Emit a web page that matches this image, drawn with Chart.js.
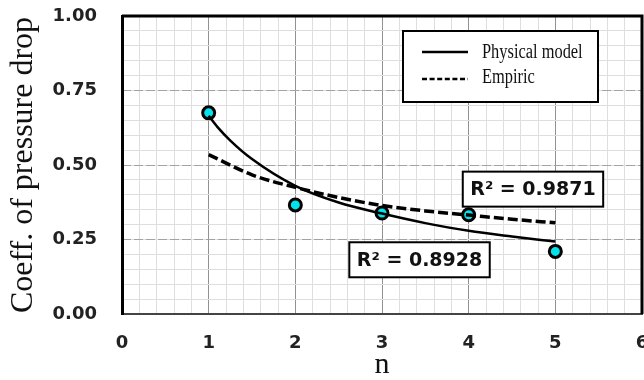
<!DOCTYPE html>
<html><head><meta charset="utf-8">
<script src="https://cdn.jsdelivr.net/npm/chart.js@4"></script>
<style>html,body{margin:0;padding:0;background:#fff;}canvas{display:block;}</style>
</head><body>
<canvas id="c" width="644" height="380"></canvas>
<script>
const xTickLabels = ['0','1','2','3','4','5','6'];
const yTickLabels = ['0.00','0.25','0.50','0.75','1.00'];
const measuredN = [1, 2, 3, 4, 5];
const measuredCoeff = [0.675, 0.366, 0.339, 0.333, 0.210];
const physicalN = [1, 1.1, 1.25, 1.5, 2, 2.5, 3, 3.5, 4, 4.5, 5];
const physicalCoeff = [0.665, 0.628, 0.582, 0.520, 0.430, 0.374, 0.337, 0.305, 0.279, 0.260, 0.243];
const empiricN = [1, 1.5, 2, 2.5, 3, 3.5, 4, 4.5, 5];
const empiricCoeff = [0.535, 0.467, 0.425, 0.391, 0.364, 0.346, 0.332, 0.318, 0.306];
const seriesNames = ['Physical model', 'Empiric', 'Measured'];
const r2Labels = ['R² = 0.8928', 'R² = 0.9871'];
const axisTitles = {x: 'n', y: 'Coeff. of pressure drop'};

const pts = (xs, ys) => xs.map((v, i) => ({x: v, y: ys[i]}));

const decor = {
  id: 'decor',
  afterDatasetsDraw(chart) {
    const {ctx, chartArea: a, scales: {x, y}} = chart;
    ctx.save();
    ctx.strokeStyle = '#000'; ctx.lineWidth = 3;
    ctx.beginPath();
    ctx.moveTo(a.left, a.top); ctx.lineTo(a.right, a.top); ctx.lineTo(a.right, a.bottom);
    ctx.stroke();

    const lx = 403, ly = 31, lw = 195, lh = 71;
    ctx.fillStyle = '#fff'; ctx.fillRect(lx, ly, lw, lh);
    ctx.lineWidth = 2; ctx.strokeStyle = '#000'; ctx.strokeRect(lx, ly, lw, lh);
    const ds = chart.data.datasets;
    [0, 1].forEach((k, i) => {
      const yy = ly + (i === 0 ? 21 : 48);
      ctx.beginPath();
      ctx.setLineDash(k === 1 ? [5, 2.6] : []);
      ctx.lineWidth = 2.5;
      ctx.moveTo(lx + 19, yy); ctx.lineTo(lx + 65, yy); ctx.stroke();
      ctx.setLineDash([]);
      ctx.save();
      ctx.translate(lx + 79, ly + (i === 0 ? 27 : 52));
      ctx.scale(0.82, 1);
      ctx.fillStyle = '#111';
      ctx.font = '20px "Liberation Serif"';
      ctx.textBaseline = 'alphabetic';
      ctx.fillText(ds[k].label, 0, 0);
      ctx.restore();
    });

    const boxes = [
      {t: r2Labels[0], cx: x.getPixelForValue(3.433), cy: y.getPixelForValue(0.182)},
      {t: r2Labels[1], cx: x.getPixelForValue(4.742), cy: y.getPixelForValue(0.419)}
    ];
    ctx.font = 'bold 19px "DejaVu Sans"';
    boxes.forEach(b => {
      const tw = ctx.measureText(b.t).width;
      const w = tw + 15, h = 35;
      ctx.fillStyle = '#fff';
      ctx.fillRect(b.cx - w / 2, b.cy - h / 2, w, h);
      ctx.lineWidth = 2; ctx.strokeStyle = '#000';
      ctx.strokeRect(b.cx - w / 2, b.cy - h / 2, w, h);
      ctx.fillStyle = '#111';
      ctx.textAlign = 'center'; ctx.textBaseline = 'middle';
      ctx.fillText(b.t, b.cx, b.cy + 1);
    });
    ctx.restore();
  }
};

const isInt = v => Math.abs(v - Math.round(v)) < 1e-6;

new Chart(document.getElementById('c'), {
  type: 'line',
  data: {
    datasets: [
      {label: seriesNames[0], data: pts(physicalN, physicalCoeff), borderColor: '#000', borderWidth: 2.5,
       pointRadius: 0, cubicInterpolationMode: 'monotone', fill: false, order: 0},
      {label: seriesNames[1], data: pts(empiricN, empiricCoeff), borderColor: '#000', borderWidth: 3.5,
       borderDash: [10, 4], pointRadius: 0, cubicInterpolationMode: 'monotone', fill: false, order: 0},
      {label: seriesNames[2], data: pts(measuredN, measuredCoeff), showLine: false, pointRadius: 6,
       pointBorderWidth: 3, pointBackgroundColor: '#00e3ec', pointBorderColor: '#000', order: 1}
    ]
  },
  options: {
    responsive: false, animation: false, devicePixelRatio: 1,
    layout: {autoPadding: false, padding: {top: 16, right: 2, left: 0, bottom: 0}},
    plugins: {legend: {display: false}, tooltip: {enabled: false}},
    scales: {
      x: {
        type: 'linear', min: 0, max: 6,
        afterFit(s) { s.height = 66; s.paddingLeft = 0; s.paddingRight = 0; },
        ticks: {stepSize: 0.2, autoSkip: false, maxRotation: 0, padding: 19, color: '#222',
          font: {family: 'DejaVu Sans', weight: 'bold', size: 18},
          callback: v => isInt(v) ? xTickLabels[Math.round(v)] : ''},
        grid: {drawTicks: false, lineWidth: 1,
          color: c => (c.tick && isInt(c.tick.value)) ? '#929292' : '#dedede'},
        border: {color: '#444', width: 2},
        title: {display: true, text: axisTitles.x, color: '#111',
          font: {family: 'Liberation Serif', size: 30, lineHeight: 1}, padding: {top: 0, bottom: 0}}
      },
      y: {
        min: 0, max: 1,
        afterFit(s) { s.width = 122; s.paddingTop = 0; s.paddingBottom = 0; },
        ticks: {stepSize: 0.05, autoSkip: false, padding: 25, color: '#222',
          font: {family: 'DejaVu Sans', weight: 'bold', size: 18},
          callback: v => isInt(v * 4) ? yTickLabels[Math.round(v * 4)] : ''},
        grid: {drawTicks: false, color: '#dedede', lineWidth: 1},
        border: {color: '#000', width: 3},
        title: {display: true, text: axisTitles.y, color: '#111',
          font: {family: 'Liberation Serif', size: 32, lineHeight: 1}, padding: {top: 8, bottom: 0}}
      },
      y2: {
        position: 'left', min: 0, max: 1,
        afterFit(s) { s.width = 0; s.paddingTop = 0; s.paddingBottom = 0; },
        ticks: {display: false, stepSize: 0.25},
        grid: {drawTicks: false, color: '#a3a3a3', lineWidth: 1},
        border: {display: false, dash: [9, 3]}
      }
    }
  },
  plugins: [decor]
});
</script>
</body></html>
